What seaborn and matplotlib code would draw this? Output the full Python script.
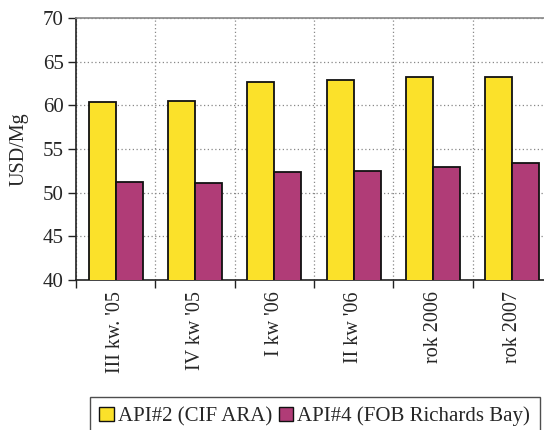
import matplotlib
matplotlib.use("Agg")
import matplotlib.pyplot as plt
import matplotlib.patches as mpatches
import seaborn as sns
import pandas as pd
import numpy as np

categories = ["III kw. '05", "IV kw '05", "I kw '06", "II kw '06", "rok 2006", "rok 2007"]
api2_values = [60.4, 60.5, 62.7, 62.9, 63.2, 63.2]
api4_values = [51.2, 51.1, 52.4, 52.5, 52.9, 53.4]
series_names = ["API#2 (CIF ARA)", "API#4 (FOB Richards Bay)"]
colors = ["#FBE12A", "#B03C77"]

df = pd.DataFrame({
    "okres": categories * 2,
    "cena": api2_values + api4_values,
    "seria": [series_names[0]] * len(categories) + [series_names[1]] * len(categories),
})

sns.set_theme(style="white")
plt.rcParams["font.family"] = ["Liberation Serif", "DejaVu Serif"]

fig = plt.figure(figsize=(5.44, 4.30), dpi=100)
ax = fig.add_axes([76 / 544, 1 - 280 / 430, 476 / 544, 262 / 430])

sns.barplot(data=df, x="okres", y="cena", hue="seria", palette=colors,
            width=0.68, gap=0, edgecolor="#111111", linewidth=1.3,
            saturation=1, ax=ax, legend=False, zorder=3)

ax.set_ylim(40, 70)
ax.set_xlim(-0.5, len(categories) - 0.5)
ax.set_yticks(np.arange(40, 71, 5))
ax.set_ylabel("USD/Mg", fontsize=14.5, labelpad=10)
ax.set_xlabel("")

# category labels at centers, ticks/grid at group boundaries
ax.set_xticks(range(len(categories)))
ax.set_xticklabels(categories, rotation=90, fontsize=14.5)
ax.set_xticks(np.arange(-0.5, len(categories), 1.0), minor=True)
ax.tick_params(axis="x", which="major", length=0, pad=8)
ax.tick_params(axis="x", which="minor", length=6, width=1, color="#222222",
               direction="out", bottom=True)
ax.tick_params(axis="y", labelsize=15, length=6, width=1, color="#222222",
               direction="out", left=True, pad=3)

ax.grid(False)
ax.yaxis.grid(True, linestyle=(0, (1, 2)), color="#888888", linewidth=0.9, zorder=0)
ax.xaxis.grid(True, which="minor", linestyle=(0, (1, 2)), color="#888888",
              linewidth=0.9, zorder=0)
ax.set_axisbelow(True)

for side in ["left", "bottom"]:
    ax.spines[side].set_color("#222222")
    ax.spines[side].set_linewidth(1.2)
ax.spines["top"].set_color("#888888")
ax.spines["top"].set_linewidth(1.2)
ax.spines["right"].set_visible(False)

handles = [mpatches.Patch(facecolor=c, edgecolor="#111111", linewidth=1.0, label=n)
           for c, n in zip(colors, series_names)]
leg = fig.legend(handles=handles, loc="upper left",
                 bbox_to_anchor=(90 / 544, 1 - 397 / 430),
                 ncol=2, fontsize=15, frameon=True, fancybox=False,
                 edgecolor="#222222", handlelength=0.7, handleheight=0.7,
                 handletextpad=0.2, columnspacing=0.3, borderpad=0.45,
                 borderaxespad=0)
leg.get_frame().set_linewidth(1.0)

fig.savefig("out.png", dpi=100)
